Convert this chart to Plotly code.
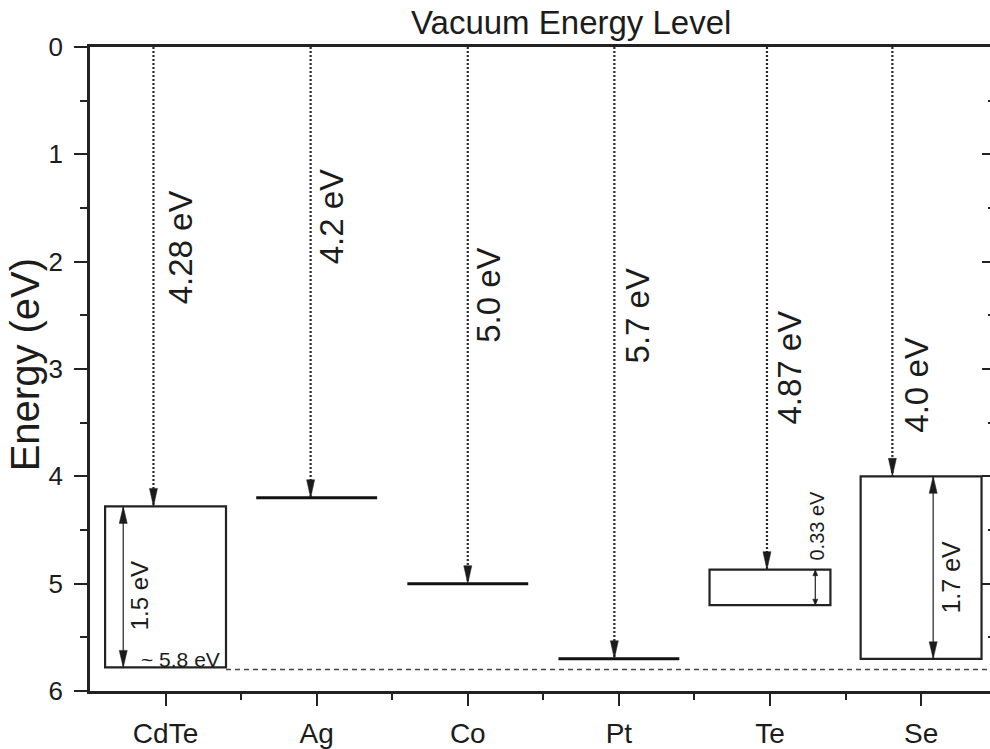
import plotly.graph_objects as go

# ---------------- data ----------------
materials = ["CdTe", "Ag", "Co", "Pt", "Te", "Se"]
level_top = [4.28, 4.2, 5.0, 5.7, 4.87, 4.0]          # eV below vacuum level
band_gap = [1.5, None, None, None, 0.33, 1.7]          # eV (None = metal, single level)
level_labels = ["4.28 eV", "4.2 eV", "5.0 eV", "5.7 eV", "4.87 eV", "4.0 eV"]
gap_labels = ["1.5 eV", None, None, None, "0.33 eV", "1.7 eV"]
cdte_vbm = 5.8
cdte_vbm_label = "~ 5.8 eV"
y_ticks = [0, 1, 2, 3, 4, 5, 6]
title_text = "Vacuum Energy Level"
y_title = "Energy (eV)"

# ---------------- style / placement ----------------
FONT = "Liberation Sans, Arial, sans-serif"
INK = "#1c1c1c"
HALF_W = 0.4
arrow_dx = [-0.08, -0.04, 0.0, -0.03, -0.02, -0.19]
label_dx = [0.10, 0.10, 0.14, 0.12, 0.13, -0.03]
label_y = [1.87, 1.58, 2.31, 2.51, 2.99, 3.15]
gap_arrow_dx = [-0.28, None, None, None, 0.30, 0.08]
gap_head = [(8, 17), None, None, None, (5, 6), (8, 17)]
gap_label_dx = [-0.17, None, None, None, 0.31, 0.20]
gap_label_y = [5.11, None, None, None, 4.46, 4.94]
gap_label_size = [24, None, None, None, 20, 25]

fig = go.Figure()
shapes = []
annotations = []


def head(x, y, w, h, down=True):
    s = 1 if down else -1
    return dict(type="path", xref="x", yref="y", xsizemode="pixel", ysizemode="pixel",
                xanchor=x, yanchor=y,
                path=f"M {-w/2},{s*h} L {w/2},{s*h} L 0,0 Z",
                fillcolor=INK, line=dict(color=INK, width=0.5), layer="above")


for i, m in enumerate(materials):
    top = level_top[i]
    # dotted arrow from vacuum level
    ax = i + arrow_dx[i]
    fig.add_trace(go.Scatter(x=[ax, ax], y=[0, top], mode="lines",
                             line=dict(color="#2a2a2a", width=2.2, dash="2px,2px"),
                             hoverinfo="skip", showlegend=False))
    shapes.append(head(ax, top, 8, 18, down=True))
    annotations.append(dict(x=i + label_dx[i], y=label_y[i], xref="x", yref="y",
                            text=level_labels[i], textangle=-90, showarrow=False,
                            xanchor="center", yanchor="middle",
                            font=dict(family=FONT, size=33, color=INK)))
    if band_gap[i] is None:
        fig.add_trace(go.Scatter(x=[i - HALF_W, i + HALF_W], y=[top, top], mode="lines",
                                 line=dict(color="#111", width=3),
                                 hoverinfo="skip", showlegend=False))
    else:
        bot = top + band_gap[i]
        shapes.append(dict(type="rect", xref="x", yref="y", x0=i - HALF_W, x1=i + HALF_W,
                           y0=top, y1=bot, line=dict(color="#222", width=2.2),
                           fillcolor="rgba(0,0,0,0)", layer="above"))
        gx = i + gap_arrow_dx[i]
        fig.add_trace(go.Scatter(x=[gx, gx], y=[top, bot], mode="lines",
                                 line=dict(color="#333", width=1.3),
                                 hoverinfo="skip", showlegend=False))
        w, h = gap_head[i]
        shapes.append(head(gx, top, w, h, down=False))
        shapes.append(head(gx, bot, w, h, down=True))
        annotations.append(dict(x=i + gap_label_dx[i], y=gap_label_y[i], xref="x", yref="y",
                                text=gap_labels[i], textangle=-90, showarrow=False,
                                xanchor="center", yanchor="middle",
                                font=dict(family=FONT, size=gap_label_size[i], color=INK)))

# dashed CdTe valence-band reference line (on y2, same scale)
fig.add_trace(go.Scatter(x=[0 + HALF_W, 5.6], y=[cdte_vbm, cdte_vbm], mode="lines",
                         line=dict(color="#444", width=1.4, dash="5px,4px"),
                         yaxis="y2", hoverinfo="skip", showlegend=False))
annotations.append(dict(x=0.10, y=5.71, xref="x", yref="y", text=cdte_vbm_label,
                        showarrow=False, xanchor="center", yanchor="middle",
                        font=dict(family=FONT, size=21, color=INK)))

# title and y title
annotations.append(dict(x=0.534, y=1.0385, xref="paper", yref="paper", text=title_text,
                        showarrow=False, xanchor="center", yanchor="middle",
                        font=dict(family=FONT, size=33, color=INK)))
annotations.append(dict(x=-0.072, y=0.506, xref="paper", yref="paper", text=y_title,
                        textangle=-90, showarrow=False, xanchor="center", yanchor="middle",
                        font=dict(family=FONT, size=40, color=INK)))

minor_x = [k + 0.5 for k in range(len(materials) - 1)]
minor_y = [v + 0.5 for v in y_ticks[:-1]]

fig.update_layout(
    width=990, height=749, autosize=False,
    margin=dict(l=90, r=0, t=47, b=52),
    paper_bgcolor="white", plot_bgcolor="white",
    showlegend=False,
    font=dict(family=FONT, color=INK),
    shapes=shapes, annotations=annotations,
    xaxis=dict(range=[-0.5, 5.456], tickmode="array", tickvals=list(range(len(materials))),
               ticktext=materials, ticks="outside", ticklen=12, tickwidth=2, tickcolor="#222",
               showline=True, linewidth=2.5, linecolor="#222", mirror=True,
               showgrid=False, zeroline=False,
               tickfont=dict(family=FONT, size=28, color=INK), ticklabelstandoff=4,
               minor=dict(tickmode="array", tickvals=minor_x, ticks="outside", ticklen=6,
                          tickwidth=2, tickcolor="#222", showgrid=False)),
    yaxis=dict(range=[6, 0], tickmode="array", tickvals=y_ticks, ticks="outside",
               ticklen=13, tickwidth=2, tickcolor="#222",
               showline=True, linewidth=2.5, linecolor="#222", mirror=False,
               showgrid=False, zeroline=False,
               tickfont=dict(family=FONT, size=26, color=INK), ticklabelstandoff=6,
               minor=dict(tickmode="array", tickvals=minor_y, ticks="outside", ticklen=7,
                          tickwidth=2, tickcolor="#222", showgrid=False)),
    yaxis2=dict(range=[6, 0], overlaying="y", side="right", tickmode="array",
                tickvals=y_ticks, ticks="inside", ticklen=8, tickwidth=2, tickcolor="#222",
                showticklabels=False, showline=False, showgrid=False, zeroline=False,
                minor=dict(tickmode="array", tickvals=minor_y, ticks="inside", ticklen=2,
                           tickwidth=2, tickcolor="#222", showgrid=False)),
)

fig.write_html("out.html")
